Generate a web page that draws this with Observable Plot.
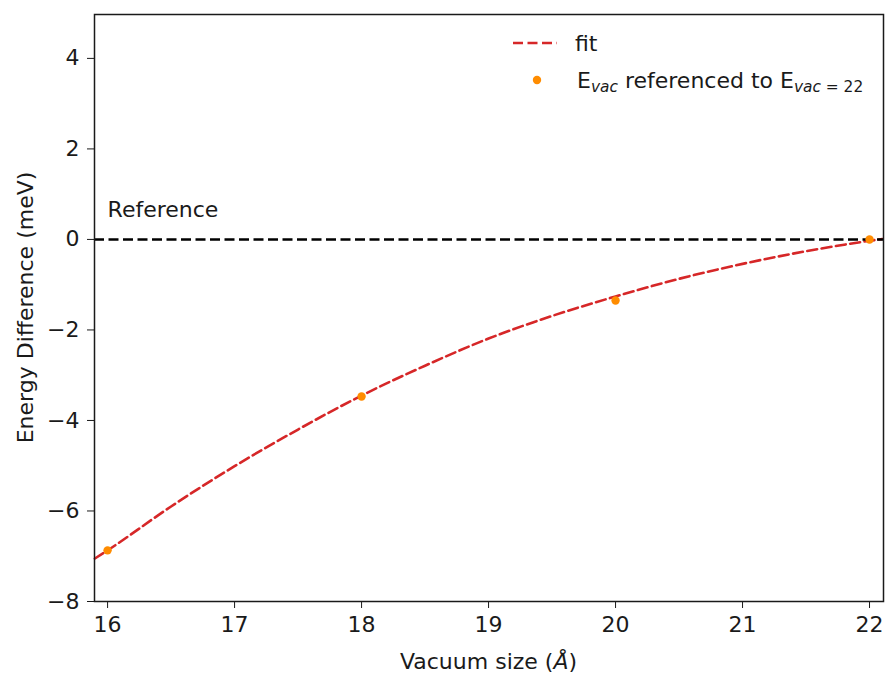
<!DOCTYPE html>
<html>
<head>
<meta charset="utf-8">
<script src="https://cdn.jsdelivr.net/npm/d3@7"></script>
<script src="https://cdn.jsdelivr.net/npm/@observablehq/plot@0.6"></script>
<style>
  html, body { margin: 0; padding: 0; background: white; }
  #chart { width: 886px; height: 677px; }
</style>
</head>
<body>
<div id="chart"></div>
<script>
// ---- data ----
const fitX = [15.9, 16, 16.5, 17, 17.5, 18, 18.5, 19, 19.5, 20, 20.5, 21, 21.5, 22, 22.1];
const fitY = [-7.05, -6.87, -5.90, -5.01, -4.20, -3.45, -2.79, -2.19, -1.69, -1.26, -0.87, -0.54, -0.26, -0.03, 0.01];
const vacX = [16, 18, 20, 22];
const vacY = [-6.87, -3.47, -1.35, 0];
const xTicks = [16, 17, 18, 19, 20, 21, 22];
const yTicks = [-8, -6, -4, -2, 0, 2, 4];
const refValue = [0];
const refLabel = [{text: "Reference", x: 16, y: 0.5}];

const fit = fitX.map((x, i) => ({x, y: fitY[i]}));
const vac = vacX.map((x, i) => ({x, y: vacY[i]}));

const FONT = "DejaVu Sans";
const FS = 22;
const fmt = d3.format("d");

const chart = Plot.plot({
  width: 886,
  height: 677,
  marginLeft: 94,
  marginRight: 3,
  marginTop: 14,
  marginBottom: 76,
  style: {fontFamily: FONT, fontSize: FS + "px", background: "white", color: "#1a1a1a"},
  x: {domain: [15.897, 22.11]},
  y: {domain: [-8, 4.97]},
  marks: [
    Plot.line(fit, {x: "x", y: "y", stroke: "#d62728", strokeWidth: 2.6, strokeDasharray: "10,4.5", curve: "monotone-x"}),
    Plot.ruleY(refValue, {stroke: "black", strokeWidth: 2.6, strokeDasharray: "10,4.5"}),
    Plot.dot(vac, {x: "x", y: "y", r: 4.2, fill: "#ff8c00", stroke: null}),
    Plot.text(refLabel, {x: "x", y: "y", text: "text", textAnchor: "start", lineAnchor: "bottom", fontSize: FS, fill: "#1a1a1a"}),
    Plot.axisX({ticks: xTicks, tickSize: 7, tickPadding: 8, label: null, fontSize: FS, tickFormat: fmt}),
    Plot.axisY({ticks: yTicks, tickSize: 7, tickPadding: 8, label: null, fontSize: FS, tickFormat: fmt}),
    Plot.frame({stroke: "#1a1a1a", strokeWidth: 1.5})
  ]
});

document.getElementById("chart").appendChild(chart);

// ---- axis labels and legend with rich text ----
const svg = d3.select(chart);
const g = svg.append("g").attr("font-family", FONT).attr("font-size", FS).attr("fill", "#1a1a1a");

// x label
const xl = g.append("text").attr("x", 488.5).attr("y", 669).attr("text-anchor", "middle");
xl.append("tspan").text("Vacuum size (");
xl.append("tspan").attr("font-style", "italic").text("Å");
xl.append("tspan").text(")");

// y label
g.append("text")
  .attr("transform", "translate(33,307.5) rotate(-90)")
  .attr("text-anchor", "middle")
  .text("Energy Difference (meV)");

// legend
const lg = g.append("g").attr("text-anchor", "start");
lg.append("line").attr("x1", 513).attr("x2", 557).attr("y1", 43).attr("y2", 43)
  .attr("stroke", "#d62728").attr("stroke-width", 2.6).attr("stroke-dasharray", "10,4.5");
lg.append("text").attr("x", 575).attr("y", 51).attr("text-anchor", "start").text("fit");
lg.append("circle").attr("cx", 537).attr("cy", 80).attr("r", 4.2).attr("fill", "#ff8c00");
const lt = lg.append("text").attr("x", 577).attr("y", 88).attr("text-anchor", "start");
lt.append("tspan").text("E");
lt.append("tspan").attr("font-style", "italic").attr("font-size", FS * 0.7).attr("dy", 4).text("vac");
lt.append("tspan").attr("dy", -4).text(" referenced to E");
lt.append("tspan").attr("font-size", FS * 0.7).attr("dy", 4)
  .html('<tspan font-style="italic">vac</tspan> = 22');
</script>
</body>
</html>
